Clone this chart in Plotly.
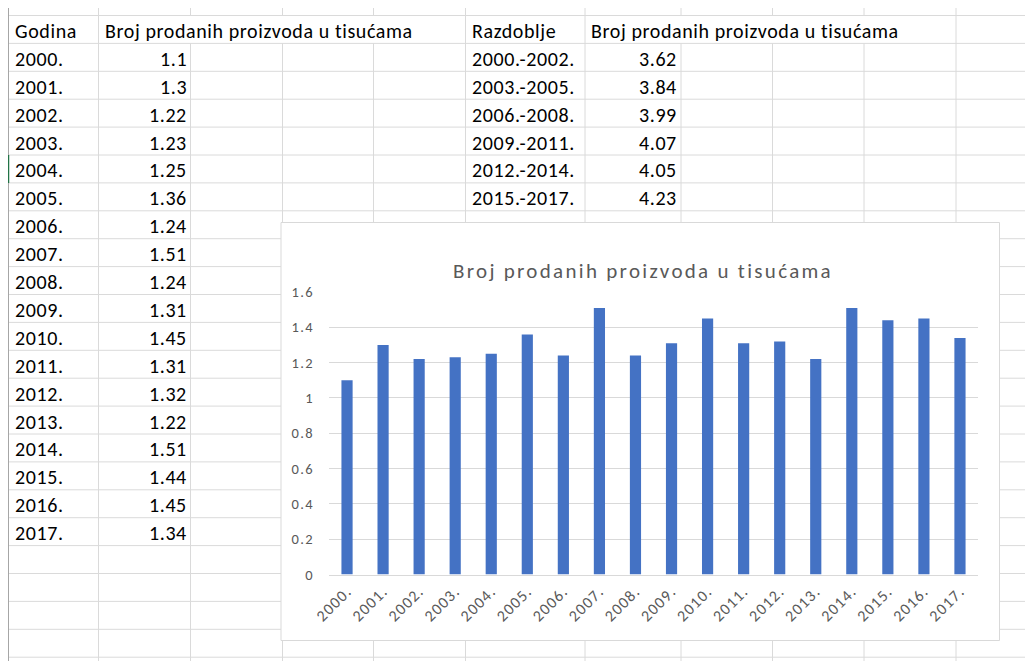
import plotly.graph_objects as go

years = ["2000.", "2001.", "2002.", "2003.", "2004.", "2005.", "2006.", "2007.", "2008.",
         "2009.", "2010.", "2011.", "2012.", "2013.", "2014.", "2015.", "2016.", "2017."]
sales = [1.1, 1.3, 1.22, 1.23, 1.25, 1.36, 1.24, 1.51, 1.24,
         1.31, 1.45, 1.31, 1.32, 1.22, 1.51, 1.44, 1.45, 1.34]

periods = ["2000.-2002.", "2003.-2005.", "2006.-2008.", "2009.-2011.", "2012.-2014.", "2015.-2017."]
period_sales = [3.62, 3.84, 3.99, 4.07, 4.05, 4.23]

header_year = "Godina"
header_period = "Razdoblje"
header_value = "Broj prodanih proizvoda u tisućama"

W, H = 1033, 661
OFF = 8  # the page body adds an 8px margin
FONT = "Calibri, Carlito, Lato, sans-serif"
GRID = "#dadada"


def px(x):
    return (x - OFF) / W


def py(y):
    return 1 - (y - OFF) / H


def spaced(text, sp):
    return f'<span style="letter-spacing:{sp}px">{text}</span>'


ROW0, ROWH = 15.5, 27.9
col_lines = [8.5, 98.5, 190.5, 282.5, 373.5, 465.5, 585, 681, 772.5, 864, 956]
hidden_in_header = [190.5, 282.5, 373.5, 681, 772.5, 864]

shapes = []
# sheet grid
for k in range(24):
    y = ROW0 + ROWH * k
    shapes.append(dict(type="line", xref="paper", yref="paper", x0=px(8), x1=px(1033),
                       y0=py(y), y1=py(y), line=dict(color=GRID, width=1), layer="below"))
for x in col_lines:
    color = "#a6a6a6" if x == 8.5 else GRID
    if x in hidden_in_header:
        segs = [(8, ROW0), (ROW0 + ROWH, 661)]
    else:
        segs = [(8, 661)]
    for a, b in segs:
        shapes.append(dict(type="line", xref="paper", yref="paper", x0=px(x), x1=px(x),
                           y0=py(a), y1=py(b), line=dict(color=color, width=1), layer="below"))
# active row marker
shapes.append(dict(type="line", xref="paper", yref="paper", x0=px(8.5), x1=px(8.5),
                   y0=py(ROW0 + ROWH * 5), y1=py(ROW0 + ROWH * 6),
                   line=dict(color="#217346", width=1.5), layer="below"))
# chart box
shapes.append(dict(type="rect", xref="paper", yref="paper", x0=px(281), x1=px(999.5),
                   y0=py(640.5), y1=py(222.5), fillcolor="white",
                   line=dict(color="#d9d9d9", width=1), layer="below"))

annotations = []


def cell(text, x, row, anchor):
    y = ROW0 + ROWH * row + ROWH / 2 + 1.5
    annotations.append(dict(text=spaced(text, 0.6), x=px(x), y=py(y), xref="paper", yref="paper",
                            xanchor=anchor, yanchor="middle", showarrow=False,
                            font=dict(family=FONT, size=20, color="#000000")))


cell(header_year, 13, 0, "left")
cell(header_value, 103, 0, "left")
for i, (yr, v) in enumerate(zip(years, sales)):
    cell(yr, 13, i + 1, "left")
    cell(str(v), 189, i + 1, "right")

cell(header_period, 470, 0, "left")
cell(header_value, 589, 0, "left")
for i, (p, v) in enumerate(zip(periods, period_sales)):
    cell(p, 470, i + 1, "left")
    cell(str(v), 679, i + 1, "right")

annotations.append(dict(text=spaced(header_value, 2.3), x=px(643), y=py(270.5),
                        xref="paper", yref="paper",
                        xanchor="center", yanchor="middle", showarrow=False,
                        font=dict(family=FONT, size=21, color="#595959")))

yticks = [0, 0.2, 0.4, 0.6, 0.8, 1, 1.2, 1.4, 1.6]

fig = go.Figure(go.Bar(x=years, y=sales, marker=dict(color="#4472c4", line=dict(width=0))))

fig.update_layout(
    width=W, height=H,
    margin=dict(l=0, r=0, t=0, b=0, autoexpand=False),
    paper_bgcolor="white",
    plot_bgcolor="rgba(0,0,0,0)",
    showlegend=False,
    bargap=0.69,
    shapes=shapes,
    annotations=annotations,
    font=dict(family=FONT, color="#595959"),
)
fig.update_xaxes(domain=[px(329), px(978)], tickangle=-45, showgrid=False,
                 showline=True, linecolor="#d9d9d9", ticks="", automargin=False,
                 tickvals=years, ticktext=[spaced(y, 1.2) for y in years],
                 tickfont=dict(family=FONT, size=16, color="#595959"))
fig.update_yaxes(domain=[py(574.5), py(292)], range=[0, 1.6],
                 tickvals=yticks, ticktext=[spaced(f"{t:g}", 1.4) for t in yticks],
                 gridcolor="#d9d9d9", zeroline=False, showline=False, ticks="",
                 ticklabelstandoff=14, automargin=False,
                 tickfont=dict(family=FONT, size=14.5, color="#595959"))

fig.write_html("out.html")
